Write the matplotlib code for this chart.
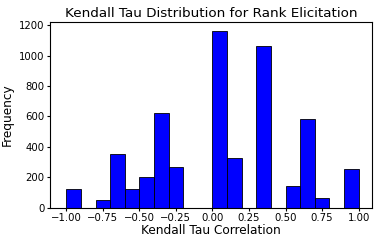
import numpy as np
import matplotlib
matplotlib.use("Agg")
import matplotlib.pyplot as plt

# histogram bins of width 0.1 from -1 to 1
bin_edges = np.round(np.arange(-1.0, 1.0001, 0.1), 2)
counts = [120, 0, 50, 355, 120, 200, 620, 265, 0, 0,
          1165, 325, 0, 1065, 0, 145, 585, 65, 0, 255]

centers = (bin_edges[:-1] + bin_edges[1:]) / 2

fig = plt.figure(figsize=(3.89, 2.43), dpi=100)
ax = fig.add_axes([0.129, 0.146, 0.827, 0.762])
ax.hist(centers, bins=bin_edges, weights=counts, color="blue", edgecolor="black", linewidth=0.6)
ax.set_title("Kendall Tau Distribution for Rank Elicitation", fontsize=9.7, pad=4)
ax.set_xlabel("Kendall Tau Correlation", fontsize=8.7, labelpad=1)
ax.set_ylabel("Frequency", fontsize=8.7, labelpad=4)
ax.set_xticks([-1.0, -0.75, -0.5, -0.25, 0.0, 0.25, 0.5, 0.75, 1.0])
ax.tick_params(labelsize=7.3, length=2.5, pad=1.5)
ax.set_xlim(-1.11, 1.09)
ax.set_ylim(0, 1220)
fig.savefig("out.png", dpi=100)
